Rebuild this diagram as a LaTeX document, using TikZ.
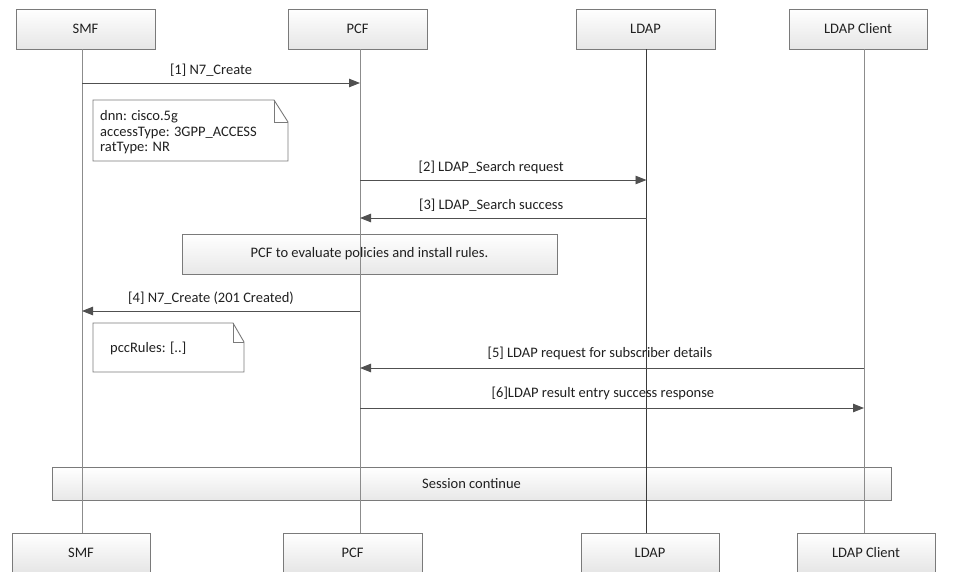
\documentclass[tikz,border=0pt]{standalone}
\usepackage{fontspec}
\setmainfont{Carlito}
\usetikzlibrary{arrows.meta,shadows}
\definecolor{edge}{HTML}{7A7A7A}
\definecolor{life}{HTML}{8C8C8C}
\definecolor{lifedark}{HTML}{3A3A3A}
\definecolor{msgc}{HTML}{505050}
\definecolor{txt}{HTML}{202020}
\begin{document}
\begin{tikzpicture}[x=1pt,y=-1pt,
  every node/.style={text=txt, font=\fontsize{14.5}{17}\selectfont, inner sep=0pt},
  actor/.style={draw=edge, line width=0.9pt, top color=white, bottom color=black!10,
    drop shadow={shadow xshift=1.2pt, shadow yshift=-1.2pt, opacity=0.25},
    minimum height=40pt},
  band/.style={draw=edge, line width=0.9pt, top color=white, bottom color=black!9,
    drop shadow={shadow xshift=1.2pt, shadow yshift=-1.2pt, opacity=0.25}},
  lifeline/.style={draw=life, line width=0.9pt},
  msg/.style={draw=msgc, line width=0.9pt, -{Triangle[length=11pt,width=8.5pt]}},
  mlabel/.style={fill=none},
  notebox/.style={draw=edge, line width=0.9pt, fill=white},
]
\useasboundingbox (0,0) rectangle (953,571);

% boxes (drawn first so lifelines appear through them)
\node[band, minimum width=375pt, minimum height=40pt] (eval) at (369.5,254)
  {PCF to evaluate policies and install rules.};
\node[band, minimum width=839pt, minimum height=33pt] (sess) at (471.5,483.5)
  {Session continue};

% actors top
\node[actor, minimum width=139pt] (smfT) at (85.5,29) {SMF};
\node[actor, minimum width=139pt] (pcfT) at (357.5,29) {PCF};
\node[actor, minimum width=139pt] (ldapT) at (645.5,29) {LDAP};
\node[actor, minimum width=138pt] (cliT) at (858,29) {LDAP Client};
% actors bottom
\node[actor, minimum width=138pt] (smfB) at (81,553) {SMF};
\node[actor, minimum width=139pt] (pcfB) at (352.5,553) {PCF};
\node[actor, minimum width=138pt] (ldapB) at (650,553) {LDAP};
\node[actor, minimum width=138pt] (cliB) at (866,553) {LDAP Client};

% lifeline endpoints
\coordinate (smf0) at (82,49);   \coordinate (smf9) at (82,533);
\coordinate (pcf0) at (360,49);  \coordinate (pcf9) at (360,533);
\coordinate (ldap0) at (646.5,49); \coordinate (ldap9) at (646.5,533);
\coordinate (cli0) at (864,49);  \coordinate (cli9) at (864,533);
\draw[lifeline] (smf0) -- (smf9);
\draw[lifeline] (pcf0) -- (pcf9);
\draw[lifeline, draw=lifedark] (ldap0) -- (ldap9);
\draw[lifeline] (cli0) -- (cli9);

% message anchor points
\coordinate (s1) at (82,83);   \coordinate (p1) at (360,83);
\coordinate (p2) at (360,180); \coordinate (l2) at (646.5,180);
\coordinate (l3) at (646.5,218); \coordinate (p3) at (360,218);
\coordinate (p4) at (360,311); \coordinate (s4) at (82,311);
\coordinate (c5) at (864,368); \coordinate (p5) at (360,368);
\coordinate (p6) at (360,408); \coordinate (c6) at (864,408);

\draw[msg] (s1) -- (p1) node[mlabel, pos=0.464, yshift=13pt] (m1) {[1] N7\_Create};
\draw[msg] (p2) -- (l2) node[mlabel, pos=0.458, yshift=13pt] (m2) {[2] LDAP\_Search request};
\draw[msg] (l3) -- (p3) node[mlabel, pos=0.542, yshift=13pt] (m3) {[3] LDAP\_Search success};
\draw[msg] (p4) -- (s4) node[mlabel, pos=0.536, yshift=13pt] (m4) {[4] N7\_Create (201 Created)};
\draw[msg] (c5) -- (p5) node[mlabel, pos=0.524, yshift=15pt] (m5) {[5] LDAP request for subscriber details};
\draw[msg] (p6) -- (c6) node[mlabel, pos=0.482, yshift=15pt] (m6) {[6]LDAP result entry success response};

% note 1
\draw[notebox] (93,100) -- (274,100) -- (288,122) -- (288,161) -- (93,161) -- cycle;
\draw[draw=edge, line width=0.9pt] (274,100) -- (274,122) -- (288,122);
\node[anchor=west] (n1a) at (100,117) {dnn: cisco.5g};
\node[anchor=west] (n1b) at (100,132.5) {accessType: 3GPP\_ACCESS};
\node[anchor=west] (n1c) at (100,148) {ratType: NR};

% note 2
\draw[notebox] (93,323) -- (233,323) -- (244,342) -- (244,372) -- (93,372) -- cycle;
\draw[draw=edge, line width=0.9pt] (233,323) -- (233,342) -- (244,342);
\node[anchor=west] (n2) at (110,348) {pccRules: [..]};
\end{tikzpicture}
\end{document}
